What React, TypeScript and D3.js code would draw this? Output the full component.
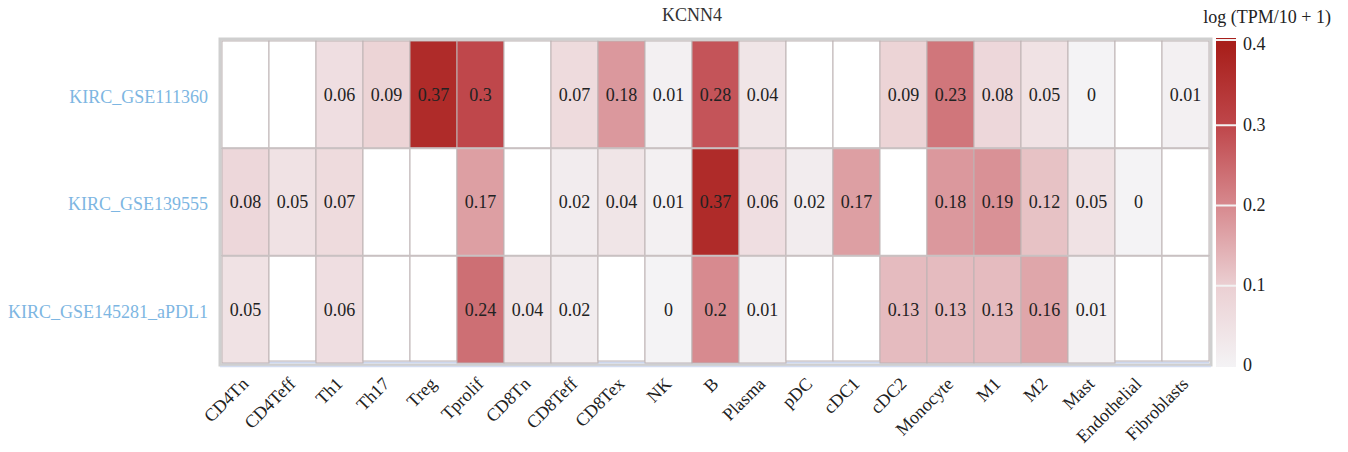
import * as d3 from "d3";

const cellTypes = [
  "CD4Tn", "CD4Teff", "Th1", "Th17", "Treg", "Tprolif", "CD8Tn", "CD8Teff",
  "CD8Tex", "NK", "B", "Plasma", "pDC", "cDC1", "cDC2", "Monocyte", "M1",
  "M2", "Mast", "Endothelial", "Fibroblasts",
];

const datasets = ["KIRC_GSE111360", "KIRC_GSE139555", "KIRC_GSE145281_aPDL1"];

// null = no data (blank cell)
const gse111360 = [null, null, 0.06, 0.09, 0.37, 0.3, null, 0.07, 0.18, 0.01, 0.28, 0.04, null, null, 0.09, 0.23, 0.08, 0.05, 0, null, 0.01];
const gse139555 = [0.08, 0.05, 0.07, null, null, 0.17, null, 0.02, 0.04, 0.01, 0.37, 0.06, 0.02, 0.17, null, 0.18, 0.19, 0.12, 0.05, 0, null];
const gse145281 = [0.05, null, 0.06, null, null, 0.24, 0.04, 0.02, null, 0, 0.2, 0.01, null, null, 0.13, 0.13, 0.13, 0.16, 0.01, null, null];

const legendTicks = [0, 0.1, 0.2, 0.3, 0.4];
const colorStops = ["#f4f3f5", "#ebd0d3", "#d78a8f", "#bf474b", "#a81f1b"];

const rows = [gse111360, gse139555, gse145281];

const width = 1348;
const height = 452;
const font = "'Liberation Serif', 'DejaVu Serif', serif";

export default function App() {
  const x = d3.scaleBand<string>().domain(cellTypes).range([222, 1209]);
  const y = d3.scaleBand<string>().domain(datasets).range([41, 363]);
  const color = d3
    .scaleLinear<string>()
    .domain(legendTicks)
    .range(colorStops)
    .interpolate(d3.interpolateRgb)
    .clamp(true);
  const ly = d3.scaleLinear().domain([0, 0.4]).range([366, 45]);

  const cells = rows.flatMap((vals, ri) =>
    vals.map((v, ci) => ({ row: datasets[ri], col: cellTypes[ci], v }))
  );

  const barX = 1216;
  const barW = 20;
  const barTop = 38;
  const barBottom = 367;

  return (
    <svg width={width} height={height} style={{ position: "absolute", left: 0, top: 0 }} fontFamily={font}>
      <defs>
        <linearGradient id="legendGrad" x1="0" y1="1" x2="0" y2="0">
          {legendTicks.map((t, i) => (
            <stop key={i} offset={(ly(0) - ly(t)) / (barBottom - barTop)} stopColor={color(t)} />
          ))}
          <stop offset={1} stopColor={colorStops[colorStops.length - 1]} />
        </linearGradient>
      </defs>

      <text x={692} y={21} textAnchor="middle" fontSize={18} fill="#333">KCNN4</text>
      <text x={1331} y={23} textAnchor="end" fontSize={18} fill="#222">log (TPM/10 + 1)</text>

      {/* frame */}
      <rect x={220} y={39} width={991} height={326} fill="#fff" stroke="#cfcfcf" strokeWidth={3} />
      <line x1={220} x2={1211} y1={366.5} y2={366.5} stroke="#d3dcf0" strokeWidth={1.5} />
      <line x1={222} x2={1209} y1={362.5} y2={362.5} stroke="#cdd7ee" strokeWidth={2} />

      {cells.map((c, i) => (
        <g key={i}>
          <rect
            x={x(c.col)}
            y={y(c.row)}
            width={x.bandwidth()}
            height={y.bandwidth() - (c.v === null && c.row === datasets[2] ? 2 : 0)}
            fill={c.v === null ? "#fff" : color(c.v)}
            stroke="#bdb3b4"
            strokeWidth={1}
          />
          {c.v !== null && (
            <text
              x={x(c.col)! + x.bandwidth() / 2}
              y={y(c.row)! + y.bandwidth() / 2}
              dy="0.35em"
              textAnchor="middle"
              fontSize={18}
              fill="#222"
            >
              {String(c.v)}
            </text>
          )}
        </g>
      ))}
      {/* row separators */}
      {datasets.slice(1).map((d) => (
        <line key={d} x1={222} x2={1209} y1={y(d)} y2={y(d)} stroke="#c9c1c2" strokeWidth={2} />
      ))}

      {datasets.map((d) => (
        <text key={d} x={208} y={y(d)! + y.bandwidth() / 2 + 2} dy="0.35em" textAnchor="end" fontSize={18} fill="#7db6e2">
          {d}
        </text>
      ))}

      {cellTypes.map((c) => (
        <text
          key={c}
          transform={`translate(${x(c)! + x.bandwidth() / 2 + 4},${385}) rotate(-45)`}
          textAnchor="end"
          fontSize={18}
          fill="#222"
        >
          {c}
        </text>
      ))}

      {/* legend */}
      <rect x={barX} y={barTop} width={barW} height={barBottom - barTop} fill="url(#legendGrad)" />
      {legendTicks.map((t) => (
        <g key={t}>
          {t > 0 && (
            <line x1={barX} x2={barX + barW} y1={t === 0.4 ? 40 : ly(t)} y2={t === 0.4 ? 40 : ly(t)} stroke="#f2f2f2" strokeWidth={2} />
          )}
          <text x={1243} y={ly(t) - 1} dy="0.35em" fontSize={18} fill="#222">
            {String(t)}
          </text>
        </g>
      ))}
    </svg>
  );
}
